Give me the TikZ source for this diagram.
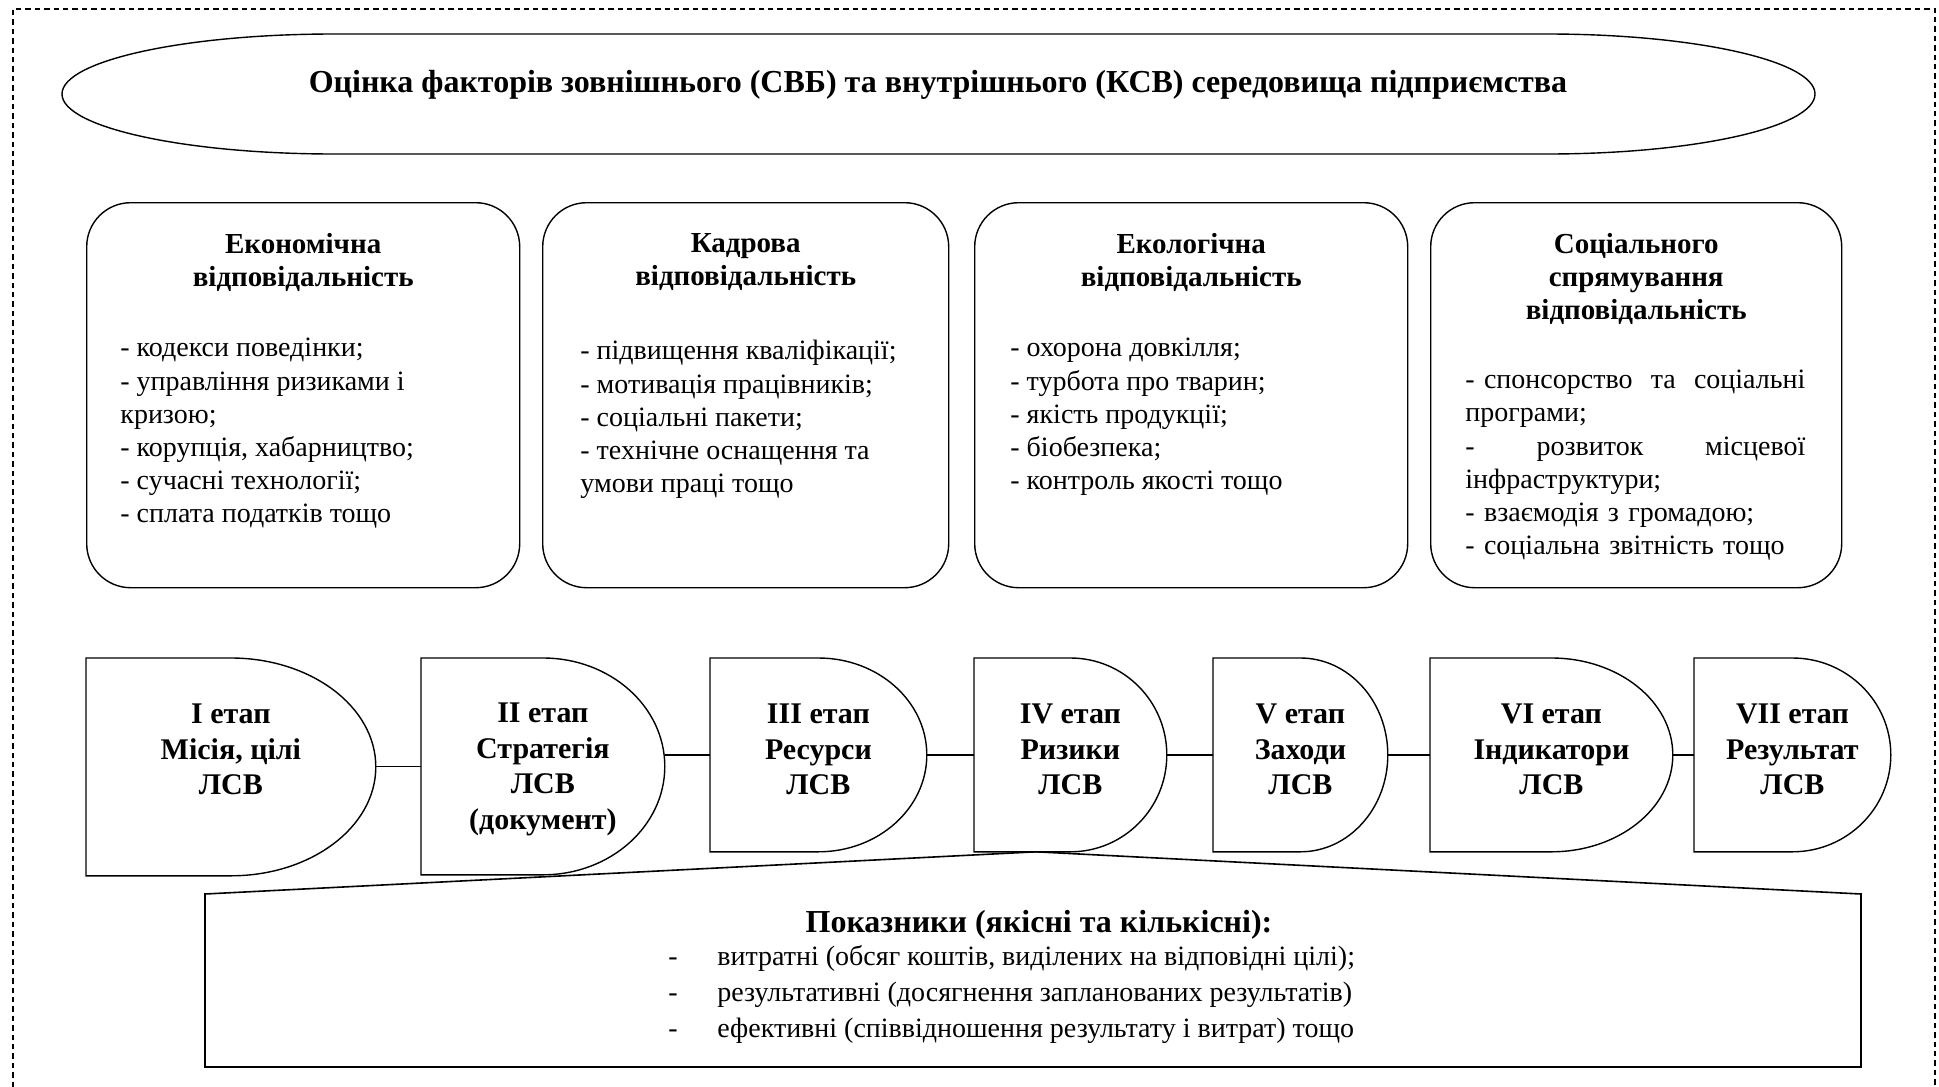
\documentclass[tikz,border=0pt]{standalone}
\usepackage{fontspec}
\setmainfont{Liberation Serif}
\usetikzlibrary{calc,positioning}

\tikzset{
  resp/.style={draw, line width=0.7pt, rounded corners=22pt, anchor=north west,
    minimum height=192.5pt, inner sep=0pt},
  resphead/.style={font=\fontsize{14.5}{16.5}\selectfont\bfseries, align=center,
    inner sep=0pt, execute at begin node=\strut},
  resplist/.style={font=\fontsize{14}{16.6}\selectfont, align=left,
    inner sep=0pt, execute at begin node=\strut},
  stage/.style={anchor=north west, minimum height=96.5pt, inner sep=0pt, align=center,
    font=\fontsize{15}{17.75}\selectfont\bfseries,
    execute at begin node=\strut, execute at end node=\strut},
  outline/.style={line width=0.7pt}
}

\newcommand\wfill{\hskip 0pt plus 1filll\relax}
\newcommand\dashitem{\makebox[24.5pt][l]{-}}

\begin{document}
\begin{tikzpicture}[x=0.5pt, y=-0.5pt]
\useasboundingbox (0,0) rectangle (1939,1087);

% dashed frame
\draw[line width=0.6pt, dash pattern=on 2.7pt off 2pt] (13,1087) |- (1935,9) -- (1935,1087);

% top oval
\draw[outline] (334,34) -- (1547,34)
  arc[start angle=90, end angle=-90, x radius=134pt, y radius=30pt] -- (334,154)
  arc[start angle=270, end angle=90, x radius=136pt, y radius=30pt] -- cycle;
\node[anchor=base, font=\fontsize{16}{19}\selectfont\bfseries] (title) at (938,92)
  {Оцінка факторів зовнішнього (СВБ) та внутрішнього (КСВ) середовища підприємства};

% four kinds of responsibility
\node[resp, minimum width=216.5pt] (econ) at (86,202) {};
\node[resp, minimum width=203pt] (staff) at (542,202) {};
\node[resp, minimum width=216.5pt] (ecol) at (974,202) {};
\node[resp, minimum width=205.5pt] (social) at (1430,202) {};

\node[resphead, below=15.5pt of econ.north] (econhead) {Економічна\\відповідальність};
\node[resphead, below=15.5pt of staff.north] (staffhead) {Кадрова\\відповідальність};
\node[resphead, below=15.5pt of ecol.north] (ecolhead) {Екологічна\\відповідальність};
\node[resphead, below=15.5pt of social.north] (socialhead) {Соціального\\спрямування\\відповідальність};

\node[resplist, below right=68pt and 17pt of econ.north west] (econlist)
  {- кодекси поведінки;\\- управління ризиками і\\кризою;\\- корупція, хабарництво;\\- сучасні технології;\\- сплата податків тощо};
\node[resplist, below right=69pt and 19pt of staff.north west] (stafflist)
  {- підвищення кваліфікації;\\- мотивація працівників;\\- соціальні пакети;\\- технічне оснащення та\\умови праці тощо};
\node[resplist, below right=68pt and 18pt of ecol.north west] (ecollist)
  {- охорона довкілля;\\- турбота про тварин;\\- якість продукції;\\- біобезпека;\\- контроль якості тощо};
\node[resplist, text width=170pt, below right=81.5pt and 17.5pt of social.north west] (sociallist)
  {- спонсорство \wfill та \wfill соціальні\\програми;\\- \wfill розвиток \wfill місцевої\\інфраструктури;\\- взаємодія з громадою;\\- соціальна звітність тощо};

% stages
\node[stage, minimum width=144.5pt, minimum height=108.5pt, text depth=17.3pt] (st1) at (86,658) {I етап\\Місія, цілі\\ЛСВ};
\node[stage, minimum width=121.5pt, minimum height=108pt, text depth=-0.7pt] (st2) at (421,658) {II етап\\Стратегія\\ЛСВ\\(документ)};
\node[stage, minimum width=108pt] (st3) at (710,658) {III етап\\Ресурси\\ЛСВ};
\node[stage, minimum width=96pt] (st4) at (974,658) {IV етап\\Ризики\\ЛСВ};
\node[stage, minimum width=87pt] (st5) at (1213,658) {V етап\\Заходи\\ЛСВ};
\node[stage, minimum width=121pt] (st6) at (1430,658) {VI етап\\Індикатори\\ЛСВ};
\node[stage, minimum width=98pt] (st7) at (1694,658) {VII етап\\Результат\\ЛСВ};

\foreach \s in {st1,st2,st3,st4,st5,st6,st7}
  \draw[outline] let \p1=($(\s.north east)-(\s.south west)$) in
    (\s.north west) -- (\s.north)
    arc[start angle=90, end angle=-90, x radius=0.5*\x1, y radius=0.5*\y1]
    -- (\s.south west) -- cycle;

\foreach \a/\b in {st1/st2,st2/st3,st3/st4,st4/st5,st5/st6,st6/st7}
  \draw[outline] (\b.west) -- (\b.west -| \a.east);

% indicators
\coordinate (apex) at ($(st4.south west)+(62,0)$);
\draw[line width=0.8pt] (205,894) -- (apex) -- (1861,894) -- (1861,1067) -- (205,1067) -- cycle;
\node[anchor=base, font=\fontsize{16}{19}\selectfont\bfseries] (indhead) at (1039,932)
  {Показники (якісні та кількісні):};
\node[anchor=north west, align=left, inner sep=0pt, font=\fontsize{14}{18}\selectfont,
  execute at begin node=\strut] (indlist) at (668,945)
  {\dashitem витратні (обсяг коштів, виділених на відповідні цілі);\\
   \dashitem результативні (досягнення запланованих результатів)\\
   \dashitem ефективні (співвідношення результату і витрат) тощо};
\end{tikzpicture}
\end{document}
